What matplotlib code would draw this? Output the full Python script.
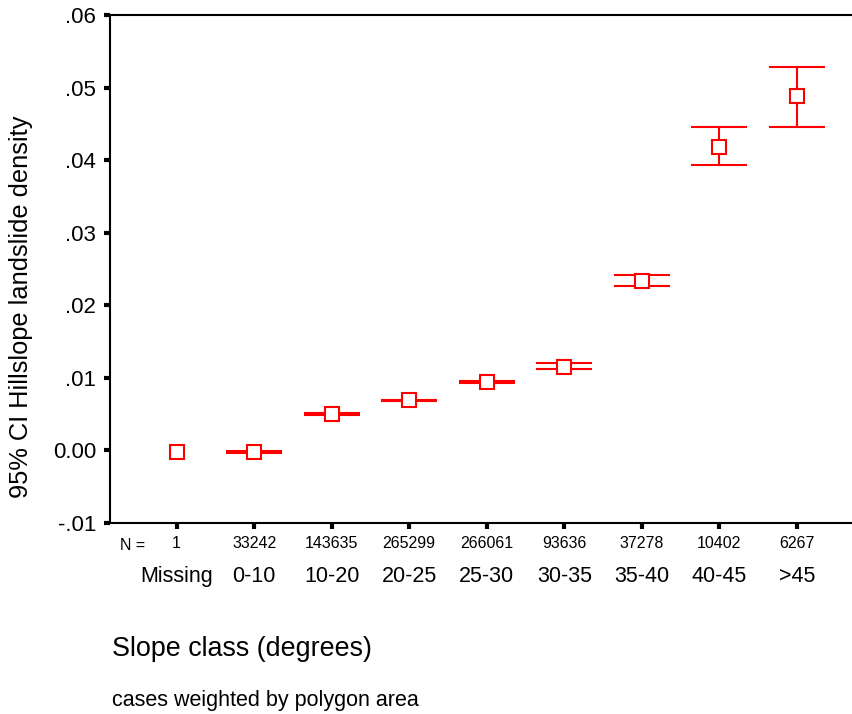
import numpy as np
import matplotlib
matplotlib.use('Agg')
import matplotlib.pyplot as plt

plt.rcParams['font.family'] = ['Liberation Sans', 'DejaVu Sans']

# slope classes and sample sizes
categories = ['Missing', '0-10', '10-20', '20-25', '25-30', '30-35', '35-40', '40-45', '>45']
n_cases = ['1', '33242', '143635', '265299', '266061', '93636', '37278', '10402', '6267']
# mean landslide density and 95% CI bounds
means = [-0.0002, -0.0002, 0.0050, 0.0069, 0.0094, 0.0115, 0.0234, 0.0418, 0.0488]
ci_low = [np.nan, -0.0003, 0.0049, 0.0068, 0.0093, 0.0112, 0.0226, 0.0393, 0.0445]
ci_high = [np.nan, -0.0001, 0.0051, 0.0070, 0.0095, 0.0120, 0.0242, 0.0445, 0.0529]

fig = plt.figure(figsize=(8.52, 7.14), dpi=100)
ax = fig.add_axes([0.129, 0.2675, 0.871, 0.7115])

x = np.arange(len(categories))
red = '#ff0000'
for i in x:
    if not np.isnan(ci_low[i]):
        ax.errorbar(i, means[i], yerr=[[means[i] - ci_low[i]], [ci_high[i] - means[i]]],
                    fmt='none', ecolor=red, elinewidth=1.5, capsize=20, capthick=1.5)
ax.plot(x, means, 's', mfc='white', mec=red, mew=1.5, ms=9.5, ls='none', zorder=3)

ax.set_xlim(-0.86, 8.71)
ax.set_ylim(-0.01, 0.06)
ax.set_yticks([-0.01, 0, 0.01, 0.02, 0.03, 0.04, 0.05, 0.06])
ax.set_yticklabels(['-.01', '0.00', '.01', '.02', '.03', '.04', '.05', '.06'], fontsize=16)
ax.set_xticks(x)
ax.set_xticklabels(n_cases, fontsize=11.5)
ax.tick_params(axis='both', direction='out', length=4, width=3)
ax.tick_params(axis='x', pad=5)
ax.tick_params(axis='y', pad=6)
ax.spines['right'].set_visible(False)
for s in ['left', 'bottom', 'top']:
    ax.spines[s].set_linewidth(1.5)

trans = ax.get_xaxis_transform()
ax.text(-0.57, -0.045, 'N =', transform=trans, fontsize=11.5, ha='center', va='center')
for i, c in enumerate(categories):
    ax.text(i, -0.106, c, transform=trans, fontsize=15.5, ha='center', va='center')

# y label placed by hand, like the original sits a bit below the axes centre
fig.text(0.025, 0.570, '95% CI Hillslope landslide density', fontsize=18.3,
         rotation=90, ha='center', va='center')
fig.text(0.131, 0.091, 'Slope class (degrees)', fontsize=19.4, ha='left', va='center')
fig.text(0.131, 0.019, 'cases weighted by polygon area', fontsize=15.5, ha='left', va='center')

fig.savefig('out.png', dpi=100)
